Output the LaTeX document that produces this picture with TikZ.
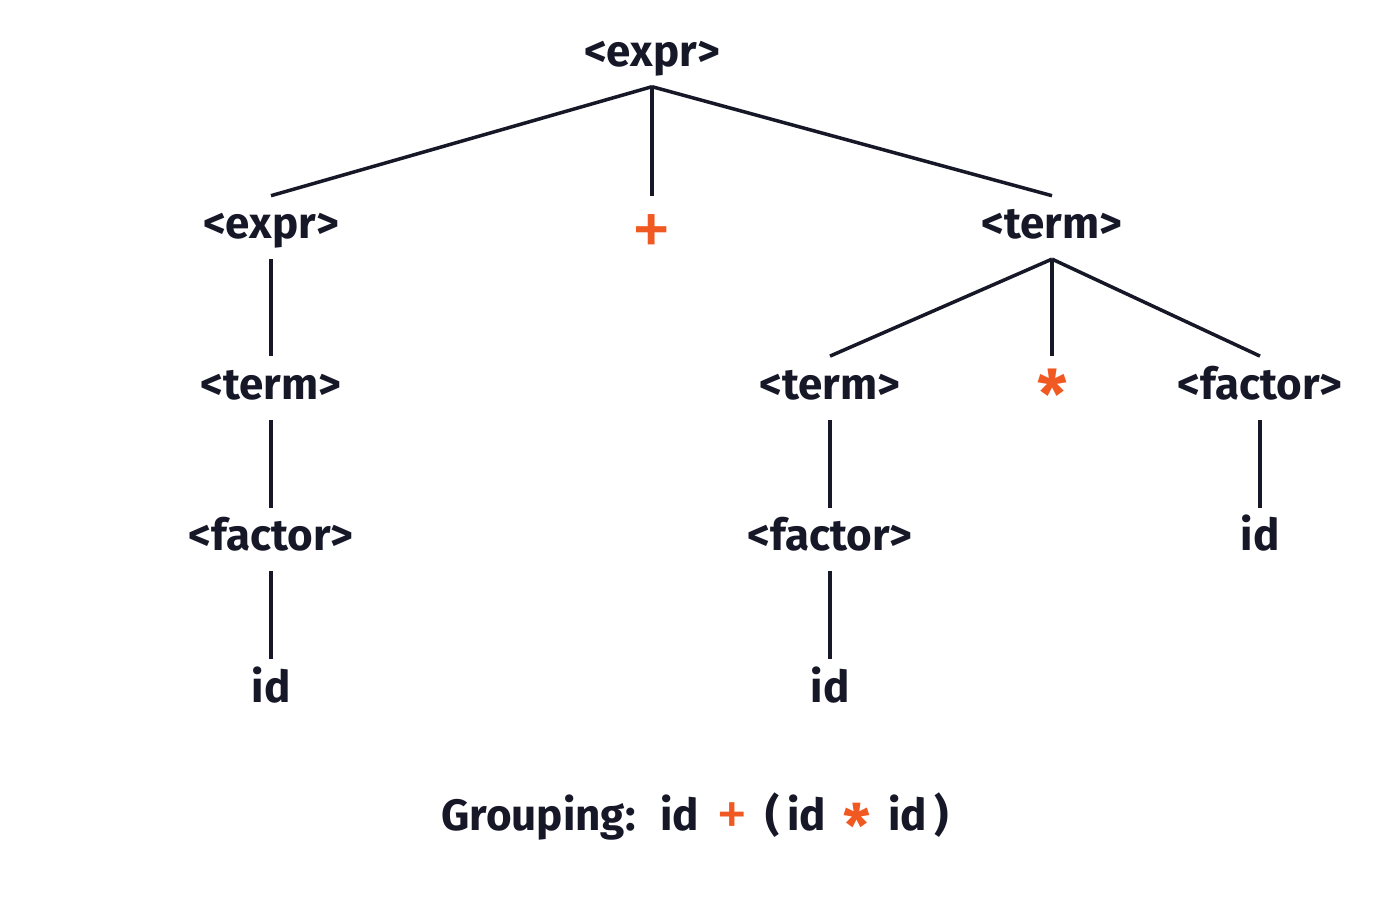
\documentclass[tikz,border=0pt]{standalone}
\usepackage{fontspec}
\setmainfont{Fira Sans}
\usetikzlibrary{positioning}
\definecolor{ink}{RGB}{22,24,40}
\definecolor{opcolor}{RGB}{240,90,34}
\newcommand{\bigplus}[2]{\raisebox{#2}{\fontsize{#1}{#1}\selectfont\mdseries +}}
\newcommand{\bigstar}[2]{\raisebox{#2}{\fontsize{#1}{#1}\selectfont *}}
\newcommand{\gap}{\hspace{5pt}}

\begin{document}
\begin{tikzpicture}[thin, every node/.style={font=\fontsize{12.5}{15}\selectfont\bfseries, text=ink},
    sym/.style={minimum height=0.62cm, inner sep=0pt, text height=10pt, text depth=3.5pt},
    op/.style={sym, text=opcolor}]
        \useasboundingbox (0,0) rectangle (14,9);
        % Nodes
        \node[sym] (root) at (6.52,8.45) {<expr>};
        \node[sym, below=1.09cm of root, xshift=-3.81cm] (expr) {<expr>};
        \node[op, below=1.09cm of root] (plus) {\bigplus{23}{-5pt}};
        \node[sym, below=1.09cm of root, xshift=4.0cm] (term) {<term>};
        \node[sym, below=0.97cm of expr] (termL) {<term>};
        \node[sym, below=0.88cm of termL] (factorL) {<factor>};
        \node[sym, below=0.88cm of factorL] (idL) {id};
        \node[sym, below=0.97cm of term, xshift=-2.22cm] (termM) {<term>};
        \node[op, below=0.97cm of term] (star) {\bigstar{19}{-5.5pt}};
        \node[sym, below=0.97cm of term, xshift=2.08cm] (factorR) {<factor>};
        \node[sym, below=0.88cm of termM] (factorM) {<factor>};
        \node[sym, below=0.88cm of factorM] (idM) {id};
        \node[sym, below=0.88cm of factorR] (idR) {id};
        \node (group) at (6.95,0.8) {Grouping:\gap\,id\gap \textcolor{opcolor}{\bigplus{18}{-1.5pt}}\gap (\,id\gap \textcolor{opcolor}{\bigstar{17}{-5pt}}\gap id\,)};

        % Edges
        \begin{scope}[draw=ink, line width=1pt]
        \draw (root.south) -- (expr.north);
        \draw (root.south) -- (plus.north);
        \draw (root.south) -- (term.north);
        \draw (expr) -- (termL);
        \draw (termL) -- (factorL);
        \draw (factorL) -- (idL);
        \draw (term.south) -- (termM.north);
        \draw (term.south) -- (star.north);
        \draw (term.south) -- (factorR.north);
        \draw (termM) -- (factorM);
        \draw (factorM) -- (idM);
        \draw (factorR) -- (idR);
        \end{scope}
    \end{tikzpicture}
\end{document}
